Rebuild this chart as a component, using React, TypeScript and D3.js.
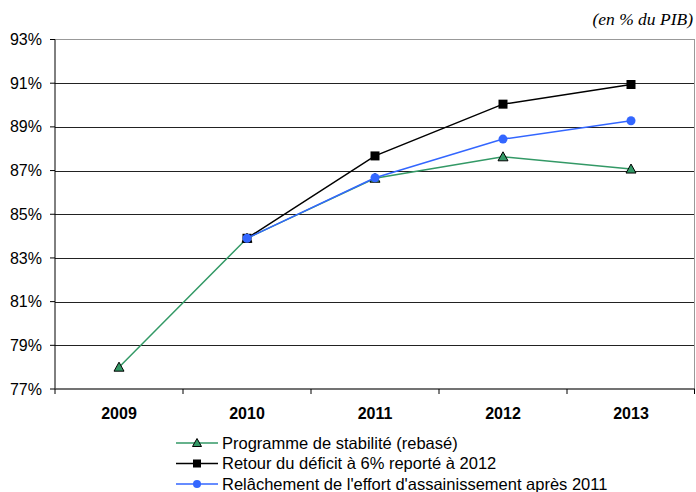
import React from 'react';
import * as d3 from 'd3';

const years = ['2009', '2010', '2011', '2012', '2013'];
const stabilite = [78.0, 83.9, 86.65, 87.63, 87.07];
const retourDeficit = [null, 83.9, 87.67, 90.04, 90.94];
const relachement = [null, 83.9, 86.67, 88.44, 89.28];
const yTicks = [77, 79, 81, 83, 85, 87, 89, 91, 93];
const seriesNames = [
    'Programme de stabilité (rebasé)',
    'Retour du déficit à 6% reporté à 2012',
    "Relâchement de l'effort d'assainissement après 2011",
];

const W = 696;
const H = 492;
const margin = { left: 55, top: 39.5, right: 1, bottom: 103 };

const App: React.FC = () => {
    const x = d3.scaleBand<string>().domain(years).range([margin.left, W - margin.right]);
    const y = d3.scaleLinear().domain([77, 93]).range([H - margin.bottom, margin.top]);
    const cx = (yr: string) => (x(yr) as number) + x.bandwidth() / 2;

    const line = d3.line<[string, number | null]>()
        .defined(d => d[1] !== null)
        .x(d => cx(d[0]))
        .y(d => y(d[1] as number));

    const series = [
        { name: seriesNames[0], values: stabilite, color: '#339966', marker: 'triangle' },
        { name: seriesNames[1], values: retourDeficit, color: '#000000', marker: 'square' },
        { name: seriesNames[2], values: relachement, color: '#3366ff', marker: 'circle' },
    ];

    const marker = (kind: string, px: number, py: number, key: string) => {
        if (kind === 'triangle') {
            const s = 5;
            return <path key={key} d={`M${px},${py - s}L${px + s},${py + s * 0.8}L${px - s},${py + s * 0.8}Z`}
                fill="#339966" stroke="#000" strokeWidth={1} />;
        }
        if (kind === 'square') {
            return <rect key={key} x={px - 4.5} y={py - 4.5} width={9} height={9} fill="#000" />;
        }
        return <circle key={key} cx={px} cy={py} r={4.5} fill="#3366ff" />;
    };

    const plotRight = W - margin.right;
    const plotBottom = H - margin.bottom;

    return (
        <svg width={W} height={H} style={{ position: 'absolute', left: 0, top: 0, background: '#fff' }}
            fontFamily="'Liberation Sans', Arial, sans-serif">
            <text x={693} y={25} textAnchor="end" fontFamily="'Liberation Serif', 'Times New Roman', serif"
                fontStyle="italic" fontSize={17.5}>(en % du PIB)</text>

            {/* grid lines */}
            {yTicks.filter(t => t !== 77 && t !== 93).map(t => (
                <line key={t} x1={margin.left} x2={plotRight} y1={Math.round(y(t)) + 0.5} y2={Math.round(y(t)) + 0.5}
                    stroke="#222" strokeWidth={1} />
            ))}
            {/* plot border */}
            <line x1={margin.left} x2={plotRight} y1={margin.top} y2={margin.top} stroke="#999" />
            <line x1={plotRight - 0.5} x2={plotRight - 0.5} y1={margin.top} y2={plotBottom} stroke="#999" />

            {/* y axis */}
            <line x1={margin.left} x2={margin.left} y1={margin.top} y2={plotBottom} stroke="#000" />
            {yTicks.map(t => (
                <g key={t}>
                    <line x1={margin.left - 5} x2={margin.left} y1={y(t)} y2={y(t)} stroke="#000" />
                    <text x={42} y={y(t)} dy="0.35em" textAnchor="end" fontSize={16}>{t}%</text>
                </g>
            ))}

            {/* x axis */}
            <line x1={margin.left} x2={plotRight} y1={plotBottom} y2={plotBottom} stroke="#444" strokeWidth={1.5} />
            {years.map(yr => (
                <g key={yr}>
                    <line x1={x(yr) as number} x2={x(yr) as number} y1={plotBottom} y2={plotBottom + 5} stroke="#000" />
                    <text x={cx(yr)} y={419} textAnchor="middle" fontWeight="bold" fontSize={16}>{yr}</text>
                </g>
            ))}
            <line x1={plotRight - 0.5} x2={plotRight - 0.5} y1={plotBottom} y2={plotBottom + 5} stroke="#000" />

            {/* series */}
            {series.map(s => {
                const pts = years.map((yr, i) => [yr, s.values[i]] as [string, number | null]);
                return (
                    <g key={s.name}>
                        <path d={line(pts) || ''} fill="none" stroke={s.color} strokeWidth={1.5} />
                        {pts.filter(p => p[1] !== null).map(p => marker(s.marker, cx(p[0]), y(p[1] as number), p[0]))}
                    </g>
                );
            })}

            {/* legend */}
            {series.map((s, i) => {
                const ly = 443 + i * 20.5;
                return (
                    <g key={s.name}>
                        <line x1={176} x2={218} y1={ly} y2={ly} stroke={s.color} strokeWidth={1.5} />
                        {s.marker === 'triangle'
                            ? <path d={`M197,${ly - 4.5}L201.5,${ly + 3.5}L192.5,${ly + 3.5}Z`} fill="#339966" stroke="#000" />
                            : s.marker === 'square'
                                ? <rect x={193} y={ly - 4} width={8} height={8} fill="#000" />
                                : <circle cx={197} cy={ly} r={4} fill="#3366ff" />}
                        <text x={222} y={ly} dy="0.35em" fontSize={16.5}>{s.name}</text>
                    </g>
                );
            })}
        </svg>
    );
};

export default App;
